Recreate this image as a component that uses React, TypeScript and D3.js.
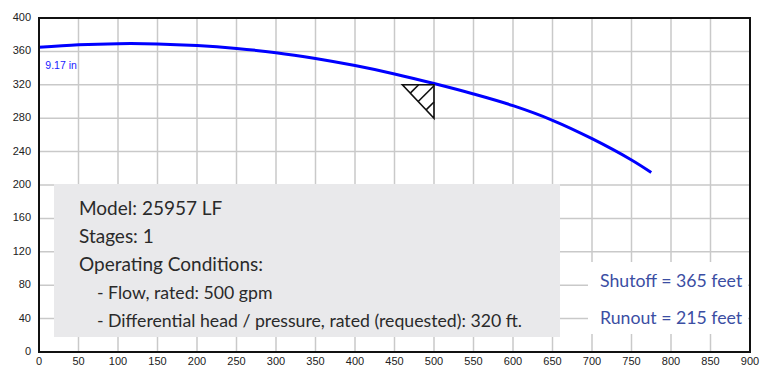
import React from 'react';
import * as d3 from 'd3';

// pump curve: flow (gpm) vs head (feet)
const flow = [0, 50, 100, 150, 200, 250, 300, 350, 400, 450, 500, 550, 600, 650, 700, 750, 775];
const head = [365, 368, 369.3, 369, 367, 363.5, 358.5, 351.5, 343, 333, 321.5, 309, 295, 277.5, 255.5, 230, 215];

const xTicks = [0, 50, 100, 150, 200, 250, 300, 350, 400, 450, 500, 550, 600, 650, 700, 750, 800, 850, 900];
const yTicks = [0, 40, 80, 120, 160, 200, 240, 280, 320, 360, 400];

// rated operating point and the size of its marker triangle (in data units)
const ratedFlow = 500;
const ratedHead = 320;
const markerFlow = 40;
const markerHead = 40;

const curveLabel = '9.17 in';
const curveLabelAt = [8, 339];

const infoLines = [
  { text: 'Model: 25957 LF', indent: false },
  { text: 'Stages: 1', indent: false },
  { text: 'Operating Conditions:', indent: false },
  { text: '- Flow, rated: 500 gpm', indent: true },
  { text: '- Differential head / pressure, rated (requested): 320 ft.', indent: true },
];
const summaryLines = ['Shutoff = 365 feet', 'Runout = 215 feet'];

const App = () => {
  const width = 760;
  const height = 366;
  const margin = { top: 18, right: 10, bottom: 14, left: 39 };

  const x = d3.scaleLinear().domain([0, 900]).range([margin.left, width - margin.right]);
  const y = d3.scaleLinear().domain([0, 400]).range([height - margin.bottom, margin.top]);

  const line = d3
    .line<number>()
    .curve(d3.curveCatmullRom.alpha(0.5))
    .x((d, i) => x(flow[i]))
    .y((d) => y(d));

  // marker triangle with hatching
  const ax = x(ratedFlow - markerFlow);
  const ay = y(ratedHead);
  const bx = x(ratedFlow);
  const cy = y(ratedHead - markerHead);
  const hatches = [0.25, 0.5, 0.75].map((t) => {
    const px = ax + t * (bx - ax);
    const py = ay + t * (cy - ay);
    // go up-right until hitting top edge or right edge
    const d = Math.min(py - ay, bx - px);
    return [px, py, px + d, py - d];
  });

  const font = 'Lato, "Open Sans", sans-serif';
  const tickFont = '"Liberation Sans", Arial, sans-serif';

  return (
    <svg
      width={width}
      height={height}
      style={{ position: 'absolute', left: 0, top: 0, background: '#fff' }}
    >
      {/* grid */}
      <g stroke="#c9c9c9" strokeWidth={1.5}>
        {xTicks.map((t) => (
          <line key={'gx' + t} x1={x(t)} x2={x(t)} y1={y(0)} y2={y(400)} />
        ))}
        {yTicks.map((t) => (
          <line key={'gy' + t} x1={x(0)} x2={x(900)} y1={y(t)} y2={y(t)} />
        ))}
      </g>

      {/* tick labels */}
      <g fontFamily={tickFont} fontSize={11} fill="#222">
        {yTicks.map((t) => (
          <text key={'ly' + t} x={31} y={y(t)} textAnchor="end" dominantBaseline="middle">
            {t}
          </text>
        ))}
        {xTicks.map((t) => (
          <text key={'lx' + t} x={x(t)} y={height - 4} textAnchor="middle" dominantBaseline="middle">
            {t}
          </text>
        ))}
      </g>

      {/* pump curve */}
      <path d={line(head) || ''} fill="none" stroke="#0000ff" strokeWidth={3} />
      <text
        x={x(curveLabelAt[0])}
        y={y(curveLabelAt[1])}
        fontFamily={tickFont}
        fontSize={10.5}
        fill="#1a1aff"
      >
        {curveLabel}
      </text>

      {/* operating point marker */}
      <g stroke="#111" strokeWidth={1.6} fill="none">
        <path d={`M${ax},${ay}L${bx},${ay}L${bx},${cy}Z`} />
        {hatches.map((h, i) => (
          <line key={'h' + i} x1={h[0]} y1={h[1]} x2={h[2]} y2={h[3]} />
        ))}
      </g>

      {/* info box */}
      <rect x={54} y={184} width={506} height={153} fill="#e9e9eb" />
      <g fontFamily={font} fill="#2a2a2a">
        {infoLines.map((l, i) => (
          <text key={'i' + i} x={l.indent ? 97 : 79} y={215 + i * 28} fontSize={l.indent ? 17.7 : 19}>
            {l.text}
          </text>
        ))}
      </g>

      {/* summary */}
      <rect x={588} y={262} width={160} height={72} fill="#fff" />
      <g fontFamily={font} fontSize={17.7} fill="#3b4ea3">
        {summaryLines.map((s, i) => (
          <text key={'s' + i} x={600} y={287 + i * 37}>
            {s}
          </text>
        ))}
      </g>

      {/* frame */}
      <rect
        x={x(0)}
        y={y(400)}
        width={x(900) - x(0)}
        height={y(0) - y(400)}
        fill="none"
        stroke="#111"
        strokeWidth={2}
      />
    </svg>
  );
};

export default App;
